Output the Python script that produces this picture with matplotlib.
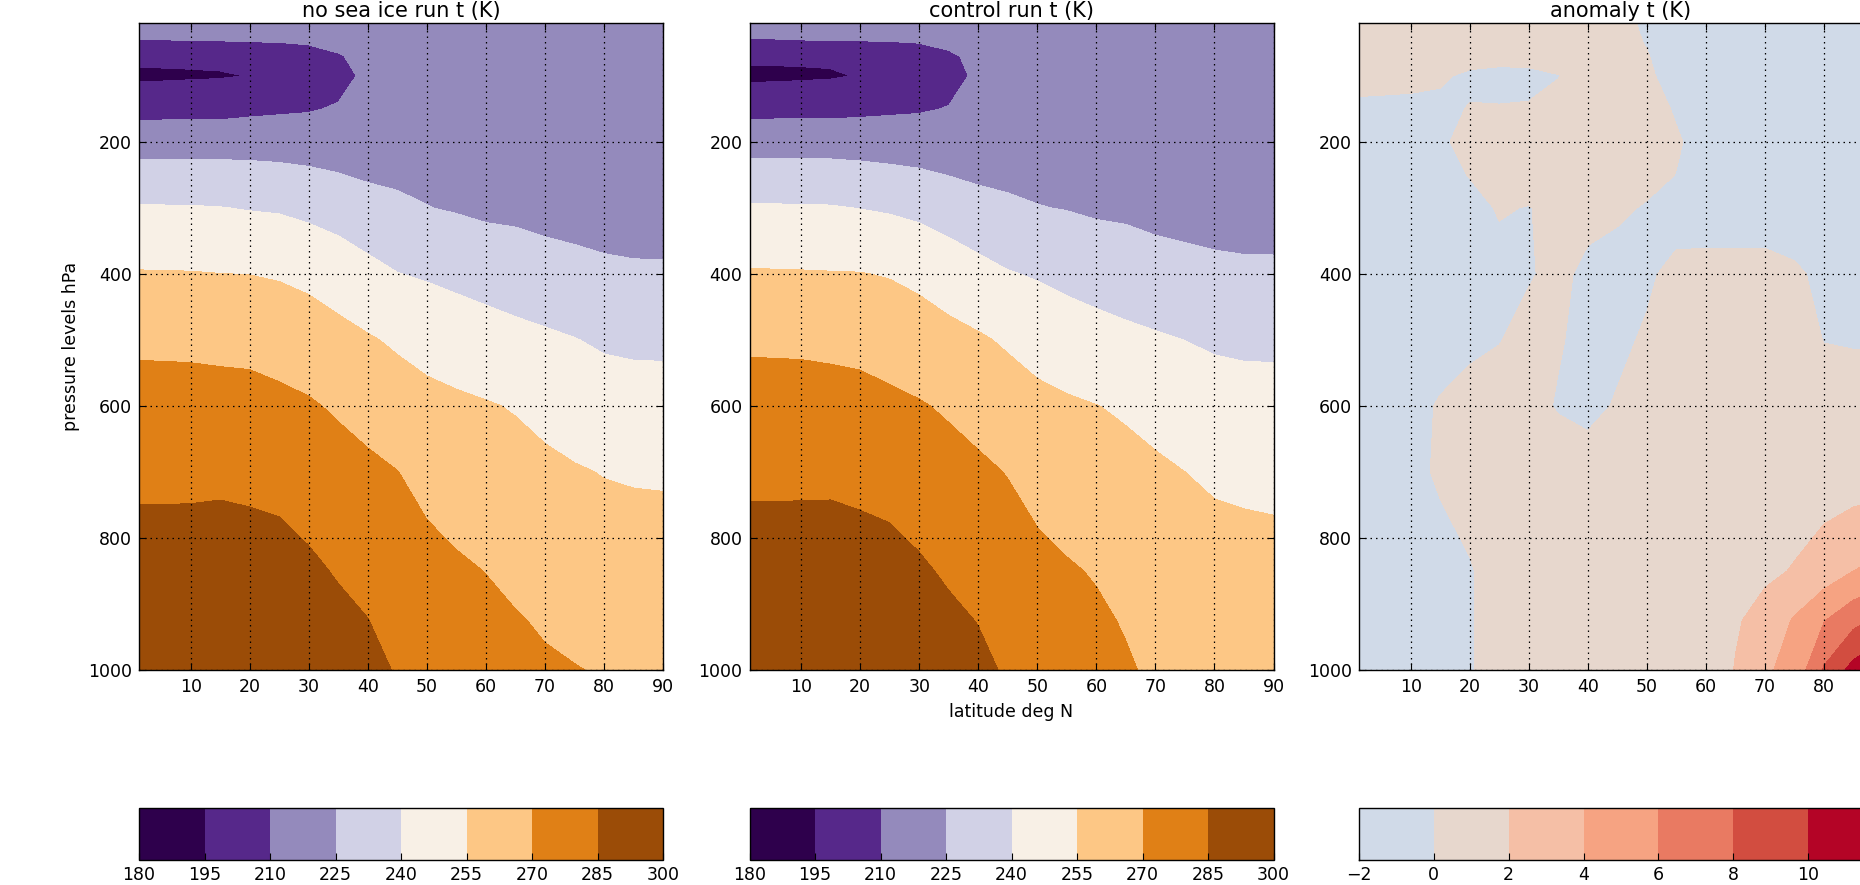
import numpy as np
import matplotlib
matplotlib.use("Agg")
import matplotlib.pyplot as plt

# -----------------------------
# data: zonal mean temperature, latitude x pressure
# -----------------------------

lat = [1.25, 5, 10, 15, 20, 25, 30, 35, 40, 45, 50, 55, 60, 65, 70, 75, 80, 85, 90]
plev = [20, 30, 50, 70, 100, 150, 200, 250, 300, 400, 500, 600, 700, 850, 925, 1000]

t_levels = [180, 195, 210, 225, 240, 255, 270, 285, 300]
t_colors = ["#2e004c", "#56288a", "#948abc", "#d1d1e6",
            "#f8f0e6", "#fdc785", "#e08016", "#9b4c07"]

anom_levels = [-2, 0, 2, 4, 6, 8, 10, 12]
anom_colors = ["#d0dae8", "#e7d7cd", "#f5bfa6", "#f6a382",
               "#e97a62", "#d24d40", "#b40426"]

# control run, one row per latitude (values at plev)
t_control_by_lat = np.array([
    [222, 219.3, 206, 197.3, 192.3, 206.3, 218, 232, 241.2, 256.2, 268.3, 274.7, 282, 292, 295.5, 299],
    [222, 219.3, 206, 197.4, 192.4, 206.4, 218, 232, 241.1, 256.1, 268.2, 274.7, 282, 292, 295.6, 299.1],
    [223, 221, 207, 197.3, 193.0, 206.8, 218, 231.8, 241.0, 255.9, 268.0, 274.7, 282, 292.3, 295.8, 299.3],
    [223, 222, 207, 197.3, 193.7, 206.5, 218.2, 231.3, 240.8, 255.6, 267.4, 274.45, 282, 292.6, 296.0, 299.4],
    [223, 221.3, 208, 199, 195.7, 207, 218.5, 229.7, 239.7, 255.4, 266.6, 274.0, 281.0, 291.3, 295.2, 299.0],
    [221, 219, 209, 201, 199, 208, 218, 228.3, 238.5, 254.2, 264.1, 272.8, 279.7, 290.0, 294.0, 297.8],
    [219, 217, 210.2, 204, 203, 209, 216.1, 227.2, 236.5, 251.8, 261.8, 270.95, 277.3, 286.8, 291.0, 295.0],
    [217, 215, 212, 208.5, 206.5, 210.4, 218, 224.7, 233.5, 248.0, 259.1, 268.4, 274.7, 283.3, 287.6, 291.0],
    [216, 215, 214, 212.5, 211.8, 214, 218.5, 222.5, 230.5, 244.2, 256.6, 265.2, 272.4, 280.6, 284.6, 288.0],
    [216, 216, 216, 215, 214.5, 216, 219, 222.0, 227.5, 240.8, 253.3, 261.7, 269.5, 276.6, 280.0, 283.5],
    [216, 216, 216, 216, 216, 217, 219.5, 222, 225.4, 238.8, 249.9, 258.6, 265.3, 273.7, 277.2, 280.8],
    [216, 216, 216, 216, 216, 217, 219, 221.5, 224.5, 236.3, 247.4, 256.7, 262.7, 271.2, 274.5, 277.8],
    [216, 216, 216, 216, 216, 216.5, 218.5, 220.5, 223.0, 234.3, 245.2, 255.2, 260.7, 269.1, 271.9, 274.7],
    [216, 216, 216, 216, 216, 216.5, 218, 220, 222.5, 232.5, 243.2, 253.5, 258.5, 265.6, 269.1, 271.3],
    [216, 216, 216, 216, 216, 216.5, 217.5, 219.5, 220.8, 230.9, 241.5, 249.8, 257.5, 263, 266, 268],
    [216, 216, 216, 216, 216, 216.5, 217, 219, 220.2, 229.3, 239.9, 247.5, 255.0, 260, 263, 265.8],
    [216, 216, 216, 216, 216, 216.5, 217, 218.5, 219.5, 228.1, 238.3, 245.8, 253.5, 259, 260, 261],
    [216, 216, 216, 216, 216, 216.5, 217, 218, 219, 227.5, 237.6, 245, 252.5, 259.2, 258.5, 258],
    [216, 216, 216, 216, 216, 216.5, 217, 218, 219, 227.4, 237.5, 244.8, 251.9, 259, 258, 257],
])
t_control = t_control_by_lat.T  # -> (plev, lat)

# anomaly (no sea ice - control), one row per pressure level
t_anomaly = np.array([
    [0.8, 0.8, 0.8, 0.8, 0.8, 0.8, 0.8, 0.8, 0.6, 0.3, -0.15, -0.6, -0.8, -0.8, -0.8, -0.8, -0.8, -0.8, -0.8],
    [0.8, 0.8, 0.8, 0.8, 0.8, 0.8, 0.8, 0.8, 0.6, 0.3, -0.12, -0.5, -0.8, -0.8, -0.8, -0.8, -0.8, -0.8, -0.8],
    [0.8, 0.8, 0.8, 0.8, 0.8, 0.8, 0.8, 0.8, 0.6, 0.35, -0.05, -0.5, -0.8, -0.8, -0.8, -0.8, -0.8, -0.8, -0.8],
    [0.8, 0.8, 0.8, 0.8, 0.9, 0.7, 0.7, 0.7, 0.7, 0.5, 0.05, -0.5, -0.8, -0.8, -0.8, -0.8, -0.8, -0.8, -0.8],
    [0.5, 0.5, 0.45, 0.3, -0.4, -0.6, -0.5, -0.05, 0.5, 0.6, 0.25, -0.6, -0.8, -0.8, -0.8, -0.8, -0.8, -0.8, -0.8],
    [-0.3, -0.35, -0.4, -0.5, 0.1, 0.1, 0.15, 0.5, 0.7, 0.7, 0.4, -0.1, -0.7, -0.8, -0.8, -0.8, -0.8, -0.8, -0.8],
    [-0.3, -0.3, -0.5, -0.15, 0.3, 0.6, 0.7, 0.8, 0.8, 0.7, 0.5, 0.1, -0.35, -0.7, -0.8, -0.8, -0.8, -0.8, -0.8],
    [-0.3, -0.3, -0.5, -0.4, 0.05, 0.5, 0.6, 0.7, 0.7, 0.6, 0.35, -0.02, -0.5, -0.8, -0.8, -0.8, -0.8, -0.8, -0.8],
    [-0.3, -0.3, -0.3, -0.5, -0.4, 0.1, -0.05, 0.4, 0.4, 0.2, -0.1, -0.6, -0.8, -0.8, -0.8, -0.8, -0.8, -0.8, -0.8],
    [-0.3, -0.3, -0.3, -0.5, -0.6, -0.4, -0.1, 0.3, -0.3, -0.5, -0.2, 0.35, 0.5, 0.5, 0.5, 0.2, -0.3, -0.5, -0.5],
    [-0.3, -0.3, -0.3, -0.5, -0.3, -0.05, 0.4, 0.1, -0.35, -0.25, 0.15, 0.5, 0.6, 0.6, 0.6, 0.5, -0.03, -0.1, -0.1],
    [-0.3, -0.3, -0.35, 0.1, 0.5, 0.6, 0.4, -0.1, -0.3, 0.1, 0.5, 0.7, 0.7, 0.7, 0.7, 0.7, 0.6, 0.6, 0.6],
    [-0.3, -0.3, -0.3, 0.15, 0.6, 0.7, 0.7, 0.7, 0.5, 0.7, 0.7, 0.7, 0.7, 0.8, 0.9, 1.1, 1.0, 0.9, 1.0],
    [-0.3, -0.3, -0.3, -0.4, -0.1, 0.5, 0.6, 0.6, 0.6, 0.6, 0.6, 0.6, 0.7, 1.3, 1.69, 2.1, 2.9, 4.0, 4.6],
    [-0.3, -0.3, -0.3, -0.4, -0.1, 0.5, 0.6, 0.6, 0.6, 0.6, 0.6, 0.6, 0.8, 1.82, 2.6, 4.2, 5.9, 7.41, 8.5],
    [-0.3, -0.3, -0.3, -0.4, -0.1, 0.5, 0.6, 0.6, 0.6, 0.6, 0.6, 0.6, 0.8, 2.08, 3.73, 4.62, 8.2, 10.7, 11.8],
])

t_noice = t_control + t_anomaly

# -----------------------------
# figure layout (pixels of a 1860x885 canvas)
# -----------------------------

W, H = 1860, 885
fig = plt.figure(figsize=(W / 100, H / 100), dpi=100)
plt.rcParams["font.family"] = "DejaVu Sans"


def px_axes(left, top, width, height):
    return fig.add_axes([left / W, 1 - (top + height) / H, width / W, height / H])


panels = [
    (t_noice, t_levels, t_colors, "no sea ice run t (K)"),
    (t_control, t_levels, t_colors, "control run t (K)"),
    (t_anomaly, anom_levels, anom_colors, "anomaly t (K)"),
]
lefts = [139, 749.5, 1359]

for i, (field, levels, colors, title) in enumerate(panels):
    ax = px_axes(lefts[i], 23, 524, 647)
    cs = ax.contourf(lat, plev, field, levels=levels, colors=colors)
    ax.set_xlim(1.25, 90)
    ax.set_ylim(1000, 20)
    # the third panel runs past the right edge of the canvas
    last_x = 90 if i < 2 else 80
    ax.set_xticks(range(10, last_x + 1, 10))
    ax.set_yticks(range(200, 1001, 200))
    ax.set_axisbelow(False)
    ax.grid(True, color="k", linestyle=(0, (1.2, 3.2)), linewidth=0.9)
    ax.tick_params(direction="in", top=True, right=True, length=5,
                   labelsize=12.5)
    ax.tick_params(axis="x", pad=6)
    ax.tick_params(axis="y", pad=5)
    for s in ax.spines.values():
        s.set_linewidth(1.0)
    ax.set_title(title, fontsize=15, pad=4)
    if i == 0:
        ax.set_ylabel("pressure levels hPa", fontsize=12.5, labelpad=6)
    if i == 1:
        ax.set_xlabel("latitude deg N", fontsize=12.5, labelpad=5)

    cax = px_axes(lefts[i], 808, 524, 52)
    cb_ticks = levels if i < 2 else levels[:-1]
    cb = fig.colorbar(cs, cax=cax, orientation="horizontal", ticks=cb_ticks)
    cb.outline.set_linewidth(1.0)
    cax.tick_params(direction="in", length=5, labelsize=12.5, pad=4)

fig.savefig("out.png", dpi=100)
